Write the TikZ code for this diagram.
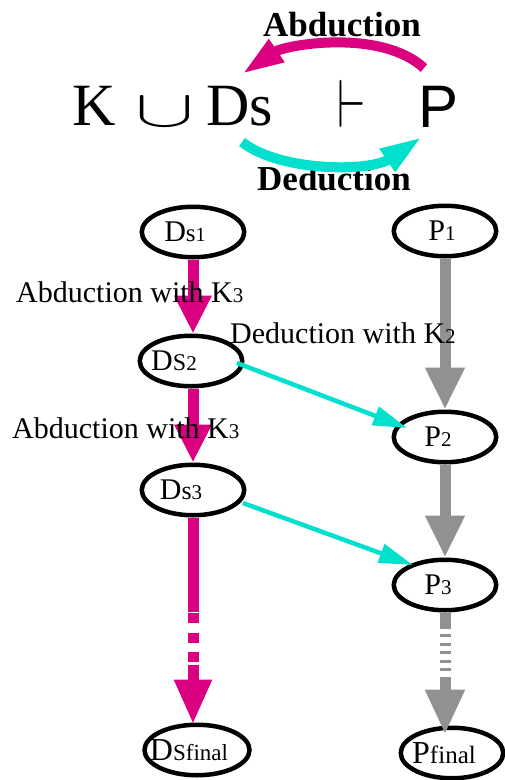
\documentclass[tikz,border=0pt]{standalone}
\usepackage{graphicx}
\usepackage{fontspec}
\setmainfont{Liberation Serif}
\newfontfamily\sansP{Liberation Sans}
\usetikzlibrary{arrows.meta,shapes.geometric,calc}
\newcommand\fs[1]{\fontsize{#1}{#1}\selectfont}
\newcommand\nl[2]{\makebox[0pt]{#2\hspace{#1}}}
\definecolor{abd}{RGB}{218,0,128}
\definecolor{ded}{RGB}{0,224,204}
\definecolor{gry}{RGB}{145,145,145}
\begin{document}
\begin{tikzpicture}[x=1pt,y=-1pt,
  ell/.style={draw, ellipse, line width=4.5pt, minimum width=102.5pt, minimum height=50.5pt, inner sep=0pt, font=\fs{30}},
  pinkar/.style={draw=abd, line width=11pt},
  greyar/.style={draw=gry, line width=11pt},
  cyanar/.style={draw=ded, line width=4.5pt, -{Triangle[width=19pt,length=34pt]}},
  txt/.style={inner sep=0pt, anchor=base west},
]
\useasboundingbox (0,0) rectangle (505,780);

% top formula
\node[txt, font=\fs{60}] (K) at (72,125) {K};
\node[inner sep=0pt, font=\fs{24.88}] (cup) at (164.5,112.5) {\scalebox{3.55}[2.09]{$\cup$}};
\node[txt, font=\fs{60}] (Ds) at (206,125) {Ds};
\node[inner sep=0pt, font=\fs{24.88}] (vd) at (351.5,103.5) {\scalebox{1.86}[2.73]{$\vdash$}};
\node[txt, font=\sansP\fs{60}] (P) at (418,127) {P};
\node[txt, font=\bfseries\fs{35}] (abl) at (263,36) {Abduction};
\node[txt, font=\bfseries\fs{35}] (dedl) at (257,190) {Deduction};

\coordinate (abS) at (424,68);
\coordinate (abE) at (242,74);
\coordinate (deS) at (242,142);
\coordinate (deE) at (422,137);
\draw[draw=abd, line width=10pt, -{Triangle[width=25pt,length=42pt]}] (abS) .. controls (380,28) and (285,45) .. (abE);
\draw[draw=ded, line width=10pt, -{Triangle[width=25pt,length=42pt]}] (deS) .. controls (280,172) and (370,172) .. (deE);

% nodes
\node[ell] (Ds1) at (193,232) {\nl{16pt}{D{\fs{25}s}{\fs{20}1}}};
\node[ell] (Ds2) at (191,361) {\nl{34pt}{D{\fs{24}S}{\fs{21}2}}};
\node[ell] (Ds3) at (193,490) {\nl{24pt}{D{\fs{26}s}{\fs{21}3}}};
\node[ell, minimum width=105pt] (Dsf) at (197,750) {\nl{16pt}{{\fs{32}D}{\fs{23}Sfinal}}};
\node[ell] (P1) at (445,231) {\nl{6pt}{P{\fs{21}1}}};
\node[ell] (P2) at (445,437) {\nl{14pt}{P{\fs{21}2}}};
\node[ell] (P3) at (445,585) {\nl{14pt}{P{\fs{21}3}}};
\node[ell] (Pf) at (452,753) {\nl{16pt}{{\fs{32}P}{\fs{25}final}}};

% abduction chain
\draw[pinkar, -{Triangle[width=35pt,length=38pt]}] (Ds1.south) -- (Ds1.south |- Ds2.north);
\draw[pinkar, -{Triangle[width=35pt,length=38pt]}] (Ds3 |- Ds2.south) -- (Ds3.north);
\coordinate (pk1) at ($(Ds3.south)+(0,94.25)$);
\coordinate (pk2) at ($(Ds3.south)+(0,95.75)$);
\coordinate (pk3) at ($(Ds3.south)+(0,145.75)$);
\coordinate (pk4) at ($(Ds3.south)+(0,147.75)$);
\draw[pinkar] (Ds3.south) -- (pk1);
\draw[pinkar, dash pattern=on 10pt off 9.5pt] (pk2) -- (pk3);
\draw[pinkar, -{Triangle[width=35pt,length=45pt]}] (pk4) -- ($(pk4 |- Dsf.north)+(0,2)$);

% deduction chain
\draw[greyar, -{Triangle[width=37pt,length=42pt]}] (P1.south) -- (P2.north);
\draw[greyar, -{Triangle[width=37pt,length=42pt]}] (P2.south) -- (P3.north);
\coordinate (g1) at ($(P3.south)+(0,16.75)$);
\coordinate (g2) at ($(P3.south)+(0,21.75)$);
\coordinate (g3) at ($(P3.south)+(0,58.75)$);
\coordinate (g4) at ($(P3.south)+(0,64.75)$);
\draw[greyar] (P3.south) -- (g1);
\draw[greyar, dash pattern=on 3pt off 5.5pt] (g2) -- (g3);
\draw[greyar, -{Triangle[width=37pt,length=45pt]}] (g4) -- ($(g4 |- Pf.north)+(0,9)$);

% cross deductions
\draw[cyanar] ($(Ds2)+(46,2)$) -- ($(P2)+(-38,-9)$);
\draw[cyanar] ($(Ds3)+(50,13)$) -- ($(P3)+(-32,-20)$);

% labels
\node[txt, font=\fs{30}] (l1) at (16,302) {Abduction with K{\fs{21}3}};
\node[txt, font=\fs{30}] (l2) at (12,438) {Abduction with K{\fs{21}3}};
\node[txt, font=\fs{30}] (l3) at (230,343) {Deduction with K{\fs{21}2}};
\end{tikzpicture}
\end{document}
